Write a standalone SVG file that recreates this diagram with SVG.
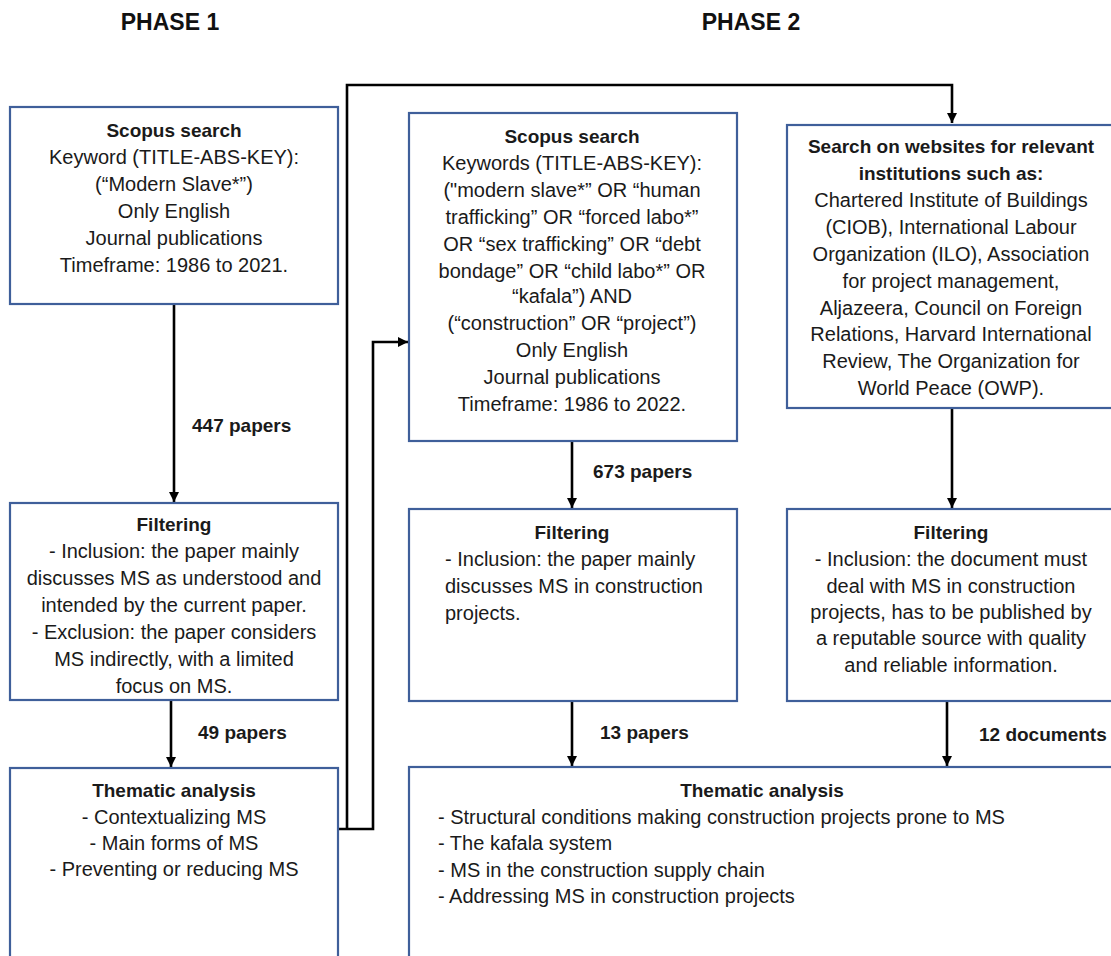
<svg xmlns="http://www.w3.org/2000/svg" width="1111" height="956" viewBox="0 0 1111 956">
<defs>
<marker id="ah" viewBox="0 0 10 10" refX="10" refY="5" markerWidth="4" markerHeight="4" orient="auto" markerUnits="strokeWidth">
<path d="M0,0 L10,5 L0,10 z" fill="#000"/>
</marker>
<style>
.box{fill:#fff;stroke:#3f5f9a;stroke-width:2.2}
.t{font-family:"Liberation Sans",Arial,sans-serif;font-size:20px;fill:#1a1a1a;text-anchor:middle}
.l{text-anchor:start}
.b{font-weight:bold;font-size:19px}
.ph{font-family:"Liberation Sans",Arial,sans-serif;font-size:23px;font-weight:bold;fill:#111;text-anchor:middle}
.lab{font-family:"Liberation Sans",Arial,sans-serif;font-size:19px;font-weight:bold;fill:#1a1a1a}
.c{fill:none;stroke:#000;stroke-width:2.6}
</style>
</defs>
<rect width="1111" height="956" fill="#fff"/>
<text class="ph" x="170" y="30">PHASE 1</text>
<text class="ph" x="751" y="30">PHASE 2</text>

<g id="connectors">
<path class="c" d="M174,304 V502" marker-end="url(#ah)"/>
<path class="c" d="M171,700 V767" marker-end="url(#ah)"/>
<path class="c" d="M572,441 V508" marker-end="url(#ah)"/>
<path class="c" d="M952,408 V508" marker-end="url(#ah)"/>
<path class="c" d="M572,701 V766" marker-end="url(#ah)"/>
<path class="c" d="M947,701 V766" marker-end="url(#ah)"/>
<path class="c" d="M338,829 H373 V342 H408" marker-end="url(#ah)"/>
<path class="c" d="M347,829 V85 H952 V123" marker-end="url(#ah)"/>
<text class="lab" x="192" y="432">447 papers</text>
<text class="lab" x="198" y="739">49 papers</text>
<text class="lab" x="593" y="478">673 papers</text>
<text class="lab" x="600" y="739">13 papers</text>
<text class="lab" x="979" y="741">12 documents</text>
</g>

<g id="p1-scopus">
<rect class="box" x="10" y="107" width="328" height="197"/>
<text class="t b" x="174" y="137">Scopus search</text>
<text class="t" x="174" y="164">Keyword (TITLE-ABS-KEY):</text>
<text class="t" x="174" y="191">(“Modern Slave*”)</text>
<text class="t" x="174" y="218">Only English</text>
<text class="t" x="174" y="245">Journal publications</text>
<text class="t" x="174" y="272">Timeframe: 1986 to 2021.</text>
</g>

<g id="p2-scopus">
<rect class="box" x="409" y="113" width="328" height="328"/>
<text class="t b" x="572" y="143">Scopus search</text>
<text class="t" x="572" y="170">Keywords (TITLE-ABS-KEY):</text>
<text class="t" x="572" y="197">("modern slave*” OR “human</text>
<text class="t" x="572" y="224">trafficking” OR “forced labo*”</text>
<text class="t" x="572" y="251">OR “sex trafficking” OR “debt</text>
<text class="t" x="572" y="278">bondage” OR “child labo*” OR</text>
<text class="t" x="572" y="303">“kafala”) AND</text>
<text class="t" x="572" y="330">(“construction” OR “project”)</text>
<text class="t" x="572" y="357">Only English</text>
<text class="t" x="572" y="384">Journal publications</text>
<text class="t" x="572" y="411">Timeframe: 1986 to 2022.</text>
</g>

<g id="p2-websites">
<rect class="box" x="787" y="125" width="340" height="283"/>
<text class="t b" x="951" y="153">Search on websites for relevant</text>
<text class="t b" x="951" y="180">institutions such as:</text>
<text class="t" x="951" y="207">Chartered Institute of Buildings</text>
<text class="t" x="951" y="234">(CIOB), International Labour</text>
<text class="t" x="951" y="261">Organization (ILO), Association</text>
<text class="t" x="951" y="288">for project management,</text>
<text class="t" x="951" y="315">Aljazeera, Council on Foreign</text>
<text class="t" x="951" y="341">Relations, Harvard International</text>
<text class="t" x="951" y="368">Review, The Organization for</text>
<text class="t" x="951" y="395">World Peace (OWP).</text>
</g>

<g id="p1-filter">
<rect class="box" x="10" y="503" width="328" height="197"/>
<text class="t b" x="174" y="531">Filtering</text>
<text class="t" x="174" y="558">- Inclusion: the paper mainly</text>
<text class="t" x="174" y="585">discusses MS as understood and</text>
<text class="t" x="174" y="612">intended by the current paper.</text>
<text class="t" x="174" y="639">- Exclusion: the paper considers</text>
<text class="t" x="174" y="666">MS indirectly, with a limited</text>
<text class="t" x="174" y="693">focus on MS.</text>
</g>

<g id="p2-filter">
<rect class="box" x="409" y="509" width="328" height="192"/>
<text class="t b" x="572" y="539">Filtering</text>
<text class="t l" x="445" y="566">- Inclusion: the paper mainly</text>
<text class="t l" x="445" y="593">discusses MS in construction</text>
<text class="t l" x="445" y="620">projects.</text>
</g>

<g id="p2-web-filter">
<rect class="box" x="787" y="509" width="340" height="192"/>
<text class="t b" x="951" y="539">Filtering</text>
<text class="t" x="951" y="566">- Inclusion: the document must</text>
<text class="t" x="951" y="593">deal with MS in construction</text>
<text class="t" x="951" y="619">projects, has to be published by</text>
<text class="t" x="951" y="645">a reputable source with quality</text>
<text class="t" x="951" y="672">and reliable information.</text>
</g>

<g id="p1-thematic">
<rect class="box" x="10" y="768" width="328" height="200"/>
<text class="t b" x="174" y="797">Thematic analysis</text>
<text class="t" x="174" y="824">- Contextualizing MS</text>
<text class="t" x="174" y="850">- Main forms of MS</text>
<text class="t" x="174" y="876">- Preventing or reducing MS</text>
</g>

<g id="p2-thematic">
<rect class="box" x="409" y="767" width="720" height="200"/>
<text class="t b" x="762" y="797">Thematic analysis</text>
<text class="t l" x="438" y="824">- Structural conditions making construction projects prone to MS</text>
<text class="t l" x="438" y="850">- The kafala system</text>
<text class="t l" x="438" y="877">- MS in the construction supply chain</text>
<text class="t l" x="438" y="903">- Addressing MS in construction projects</text>
</g>
</svg>
